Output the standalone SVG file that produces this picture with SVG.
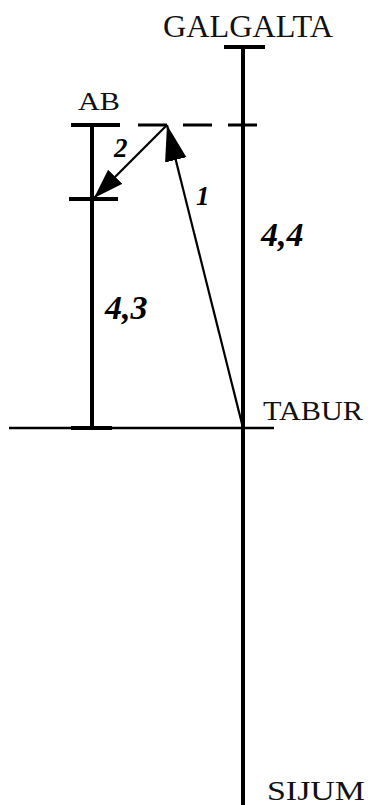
<svg xmlns="http://www.w3.org/2000/svg" width="368" height="805" viewBox="0 0 368 805">
<style>
.ax{stroke:#000;stroke-width:4;fill:none}
.cap{stroke:#000;stroke-width:4}
.arr{stroke:#000;stroke-width:2.2;fill:none}
.lbl{font-family:"Liberation Serif",serif;fill:#111}
.num{font-family:"Liberation Serif",serif;font-size:34px;font-weight:bold;font-style:italic;fill:#000}
.an{font-family:"Liberation Serif",serif;font-size:27px;font-weight:bold;font-style:italic;fill:#000}
</style>
<defs>
<marker id="ah" markerUnits="userSpaceOnUse" markerWidth="40" markerHeight="24" refX="36" refY="11" orient="auto">
<path d="M0,0 L36,11 L0,22 Z" fill="#000"/>
</marker>
<marker id="ah2" markerUnits="userSpaceOnUse" markerWidth="34" markerHeight="24" refX="30" refY="10" orient="auto">
<path d="M0,0 L30,10 L0,20 Z" fill="#000"/>
</marker>
</defs>
<g id="axes">
<line class="ax" x1="243" y1="47" x2="243" y2="805"/>
<line class="cap" x1="224" y1="47" x2="265" y2="47"/>
<line class="ax" x1="92" y1="125" x2="92" y2="428"/>
<line class="cap" x1="71" y1="125" x2="120" y2="125"/>
<line class="cap" x1="69" y1="199" x2="118" y2="199"/>
<line stroke="#000" stroke-width="2.5" x1="9" y1="428" x2="274" y2="428"/>
<line class="cap" x1="71" y1="428" x2="112" y2="428"/>
<line stroke="#000" stroke-width="3" x1="138" y1="125" x2="260" y2="125" stroke-dasharray="29 16"/>
</g>
<g id="connectors">
<line class="arr" x1="243" y1="428" x2="167" y2="125" marker-end="url(#ah)"/>
<line class="arr" x1="167" y1="125" x2="94" y2="198" marker-end="url(#ah2)"/>
</g>
<g id="GALGALTA"><text class="lbl" x="163" y="37" font-size="31" textLength="170" lengthAdjust="spacingAndGlyphs">GALGALTA</text></g>
<g id="AB"><text class="lbl" x="78" y="110" font-size="26" textLength="42" lengthAdjust="spacingAndGlyphs">AB</text></g>
<g id="TABUR"><text class="lbl" x="263" y="420" font-size="28" textLength="100" lengthAdjust="spacingAndGlyphs">TABUR</text></g>
<g id="SIJUM"><text class="lbl" x="267" y="800" font-size="28" textLength="98" lengthAdjust="spacingAndGlyphs">SIJUM</text></g>
<g id="labels">
<text class="an" x="114" y="157">2</text>
<text class="an" x="196" y="205">1</text>
<text class="num" x="261" y="246">4,4</text>
<text class="num" x="105" y="319">4,3</text>
</g>
</svg>
